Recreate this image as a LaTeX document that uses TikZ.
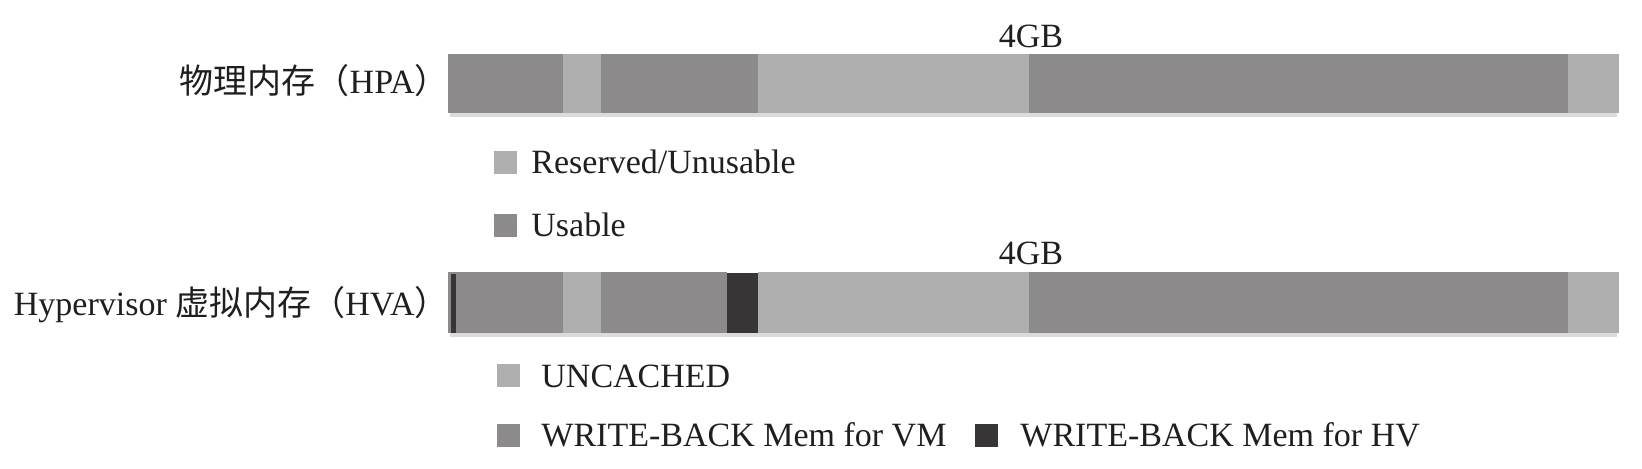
\documentclass[tikz,border=0pt]{standalone}
\usepackage{fontspec}
\setmainfont{Liberation Serif}
\newfontfamily\cjk{Noto Sans CJK SC}
\definecolor{usable}{HTML}{8C8A8B}
\definecolor{reserved}{HTML}{B0AFB0}
\definecolor{hvmem}{HTML}{383536}
\definecolor{shadowc}{HTML}{DCDBDC}
\begin{document}
\begin{tikzpicture}[x=0.5pt,y=-0.5pt,
  font=\fontsize{17}{20}\selectfont,
  txt/.style={inner sep=0pt, text=black!88},
  lsq/.style={minimum size=11.5pt, inner sep=0pt, draw=none}]
\useasboundingbox (0,0) rectangle (1642,468);
\fill[white] (0,0) rectangle (1642,468);

% ---- HPA bar ----
\fill[shadowc] (450,113) rectangle (1617,117);
\fill[usable]   (448,54) rectangle (563,113);
\fill[reserved] (563,54) rectangle (601,113);
\fill[usable]   (601,54) rectangle (758,113);
\fill[reserved] (758,54) rectangle (1029,113);
\fill[usable]   (1029,54) rectangle (1568,113);
\fill[reserved] (1568,54) rectangle (1619,113);

% ---- HVA bar ----
\fill[shadowc] (450,333) rectangle (1617,337);
\fill[usable]   (448,272) rectangle (563,333);
\fill[hvmem]    (451,274) rectangle (456,333);
\fill[reserved] (563,272) rectangle (601,333);
\fill[usable]   (601,272) rectangle (727,333);
\fill[hvmem]    (727,273) rectangle (758,333);
\fill[reserved] (758,272) rectangle (1029,333);
\fill[usable]   (1029,272) rectangle (1568,333);
\fill[reserved] (1568,272) rectangle (1619,333);

% ---- labels ----
\node[txt, anchor=base east] (hpa) at (449,93) {{\cjk 物理内存（}HPA{\cjk ）}};
\node[txt, anchor=base east] (hva) at (449,315) {Hypervisor {\cjk 虚拟内存（}HVA{\cjk ）}};
\node[txt, anchor=base] (gbone) at (1031,47) {4GB};
\node[txt, anchor=base] (gbtwo) at (1031,264) {4GB};

% ---- legend 1 ----
\node[lsq, fill=reserved, anchor=north west] (sqres) at (494,151) {};
\node[txt, anchor=base west] (lres) at (531,173.5) {Reserved/Unusable};
\node[lsq, fill=usable, anchor=north west] (squse) at (494,214) {};
\node[txt, anchor=base west] (luse) at (531,236.5) {Usable};

% ---- legend 2 ----
\node[lsq, fill=reserved, anchor=north west] (squnc) at (497,364) {};
\node[txt, anchor=base west] (lunc) at (541,387) {UNCACHED};
\node[lsq, fill=usable, anchor=north west] (sqvm) at (497,424) {};
\node[txt, anchor=base west] (lvm) at (541,446) {WRITE-BACK Mem for VM};
\node[lsq, fill=hvmem, anchor=north west] (sqhv) at (975,424) {};
\node[txt, anchor=base west] (lhv) at (1020,446) {WRITE-BACK Mem for HV};
\end{tikzpicture}
\end{document}
